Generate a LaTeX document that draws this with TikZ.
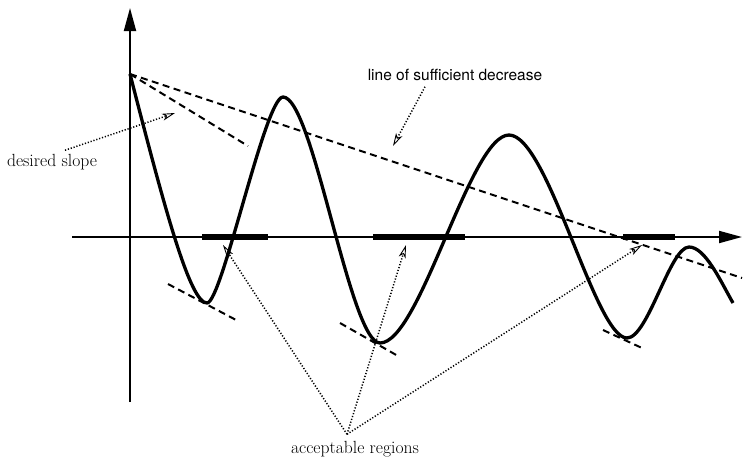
\documentclass[tikz,border=0pt]{standalone}
\usepackage{fontspec}
\newfontfamily\heros{TeX Gyre Heros}
\newcommand\serifbig{\fontsize{17.6}{21}\selectfont}
\newcommand\sansbig{\heros\fontsize{15.5}{18}\selectfont}
\usetikzlibrary{arrows.meta}
\begin{document}
\begin{tikzpicture}[x=1pt, y=-1pt,
  axis/.style={line width=1.9pt, -{Triangle[length=23pt,width=12pt]}},
  func/.style={line width=3.3pt, line join=round},
  slopeline/.style={line width=2pt, dash pattern=on 7pt off 4.5pt},
  region/.style={line width=5.5pt},
  pointer/.style={line width=1.5pt, dash pattern=on 1.2pt off 1.8pt,
    -{Stealth[open,length=13pt,width=7pt,inset=3.5pt,line width=0.9pt]}}]
	\useasboundingbox (0,0) rectangle (747,459);
	% axes
	\draw[axis] (72,237) -- (742,237);
	\draw[axis] (130,402) -- (130,8);
	% acceptable regions on the axis
	\draw[region] (202,237) -- (268,237);
	\draw[region] (373,237) -- (465,237);
	\draw[region] (623,237) -- (675,237);
	% sufficient decrease and desired slope
	\draw[slopeline] (130,74) -- (742,278);
	\draw[slopeline] (130,74) -- (248,146);
	\draw[slopeline] (168,284) -- (238,321);
	\draw[slopeline] (340,323) -- (398,356);
	\draw[slopeline] (603,330) -- (642,348);
	% the function
	\draw[func] (130,74) .. controls (165,210) and (190,303) .. (207,303)
		.. controls (222,303) and (265,97) .. (283,97)
		.. controls (313,97) and (350,343) .. (380,343)
		.. controls (420,343) and (470,135) .. (509,135)
		.. controls (548,135) and (595,338) .. (627,338)
		.. controls (648,338) and (670,247) .. (689,247)
		.. controls (705,247) and (720,280) .. (733,303);
	% labels
	\node[font=\serifbig, anchor=base] (dslope) at (52,166) {desired slope};
	\node[font=\sansbig, anchor=base] (lsd) at (455,80) {line of sufficient decrease};
	\node[font=\serifbig, anchor=base] (acc) at (355,453) {acceptable regions};
	\coordinate (dstip) at (175,113);
	\coordinate (lsdtip) at (393,146);
	\coordinate (hub) at ([xshift=-8pt,yshift=3pt]acc.north);
	\coordinate (acc1) at (223,245);
	\coordinate (acc2) at (406,245);
	\coordinate (acc3) at (642,245);
	\draw[pointer] ([xshift=13pt]dslope.north) -- (dstip);
	\draw[pointer] ([xshift=-30pt,yshift=-3pt]lsd.south) -- (lsdtip);
	\draw[pointer] (hub) -- (acc1);
	\draw[pointer] (hub) -- (acc2);
	\draw[pointer] (hub) -- (acc3);
\end{tikzpicture}
\end{document}
